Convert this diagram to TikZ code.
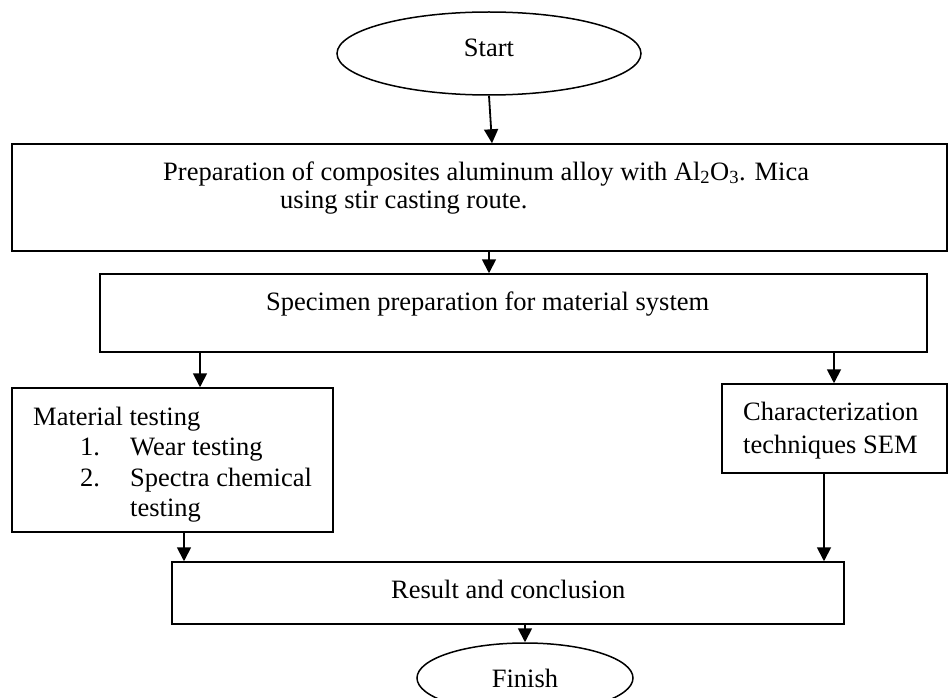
\documentclass[tikz,border=0pt]{standalone}
\usepackage{fontspec}
\setmainfont{Liberation Serif}
\usetikzlibrary{shapes.geometric,arrows.meta}
\newcommand\myfs{\fontsize{26.5}{30}\selectfont}
\begin{document}
\begin{tikzpicture}[x=1pt,y=-1pt,
  boxshape/.style={draw, rectangle, line width=1.5pt, inner sep=0pt},
  ovalshape/.style={draw, ellipse, line width=1.5pt, inner sep=0pt, font=\myfs},
  txt/.style={inner sep=0pt, anchor=base west, font=\myfs},
  arr/.style={-{Triangle[length=14pt,width=14pt]}, line width=1.8pt}]
\useasboundingbox (0,0) rectangle (948,698);

% nodes
\node[ovalshape, minimum width=304pt, minimum height=83pt, text height=17.5pt, text depth=12pt] (start) at (489,53.5) {Start};
\node[boxshape, minimum width=935pt, minimum height=107pt] (box1) at (479.5,197.5) {};
\node[txt] (t1a) at (163,180) {Preparation of composites aluminum alloy with Al\textsubscript{2}O\textsubscript{3}. Mica};
\node[txt] (t1b) at (280,208) {using stir casting route.};

\node[boxshape, minimum width=827pt, minimum height=78pt] (box2) at (513.5,313) {};
\node[txt] (t2) at (266,310) {Specimen preparation for material system};

\node[boxshape, minimum width=321pt, minimum height=144pt] (left) at (172.5,460) {};
\node[txt] (l1) at (33,425) {Material testing};
\node[txt] (l2n) at (80,455) {1.};
\node[txt] (l2) at (130,455) {Wear testing};
\node[txt] (l3n) at (80,486) {2.};
\node[txt] (l3) at (130,486) {Spectra chemical};
\node[txt] (l4) at (130,516) {testing};

\node[boxshape, minimum width=225pt, minimum height=89pt] (right) at (834.5,428.5) {};
\node[txt] (r1) at (743,420) {Characterization};
\node[txt] (r2) at (743,453) {techniques SEM};

\node[boxshape, minimum width=672pt, minimum height=62pt] (result) at (508,593) {};
\node[txt] (t5) at (391,598) {Result and conclusion};

\node[ovalshape, minimum width=216pt, minimum height=70pt] (finish) at (525,678) {Finish};

% arrow positions
\coordinate (xa) at (492,0);
\coordinate (xb) at (489,0);
\coordinate (xc) at (200,0);
\coordinate (xd) at (834,0);
\coordinate (xe) at (184,0);
\coordinate (xf) at (824,0);

% connectors
\draw[arr] (start.south) -- (box1.north -| xa);
\draw[arr] (box1.south -| xb) -- (box2.north -| xb);
\draw[arr] (box2.south -| xc) -- (left.north -| xc);
\draw[arr] (box2.south -| xd) -- (right.north -| xd);
\draw[arr] (left.south -| xe) -- (result.north -| xe);
\draw[arr] (right.south -| xf) -- (result.north -| xf);
\draw[arr] (result.south -| finish.north) -- (finish.north);
\end{tikzpicture}
\end{document}
